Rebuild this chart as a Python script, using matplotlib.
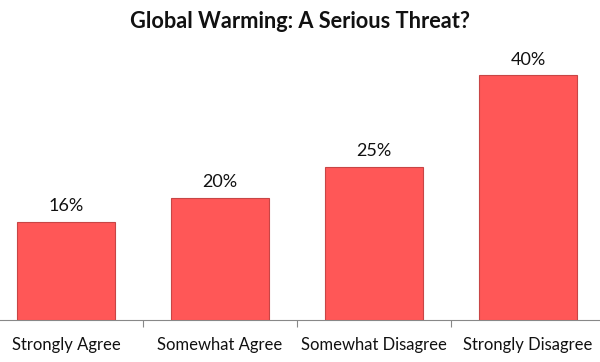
import matplotlib
matplotlib.use("Agg")
import matplotlib.pyplot as plt
from matplotlib.ticker import FixedLocator

categories = ["Strongly Agree", "Somewhat Agree", "Somewhat Disagree", "Strongly Disagree"]
values = [16, 20, 25, 40]
labels = ["16%", "20%", "25%", "40%"]
title = "Global Warming: A Serious Threat?"

plt.rcParams['font.family'] = ['Lato', 'DejaVu Sans']

fig = plt.figure(figsize=(6.0, 3.62), dpi=100)
W, H = 600, 362
base = 320
ppu = 6.12
top = 50
ax = fig.add_axes([0, (H - base) / H, 1, top * ppu / H])

x = list(range(len(categories)))
ax.bar(x, values, width=0.63, color="#FF5757", edgecolor="#C84545", linewidth=0.8, zorder=3)
for xi, v, lab in zip(x, values, labels):
    ax.annotate(lab, (xi, v), xytext=(0, 5.5), textcoords="offset points",
                ha="center", va="bottom", fontsize=13, color="#111111")

ax.set_xlim((0 - 66) / 154, (600 - 66) / 154)
ax.set_ylim(0, top)
ax.set_xticks(x)
ax.set_xticklabels(categories, fontsize=12, color="#111111")
ax.tick_params(axis="x", which="major", length=0, pad=12)
ax.xaxis.set_minor_locator(FixedLocator([0.5, 1.5, 2.5]))
ax.tick_params(axis="x", which="minor", length=5, color="#888888", width=0.8)
ax.set_yticks([])
for s in ["left", "right", "top"]:
    ax.spines[s].set_visible(False)
ax.spines["bottom"].set_color("#888888")
ax.spines["bottom"].set_linewidth(0.8)

fig.text(0.5, 1 - 22 / H, title, ha="center", va="center", fontsize=15.7, fontweight="bold", color="#111111")

fig.savefig("out.png", dpi=100)
